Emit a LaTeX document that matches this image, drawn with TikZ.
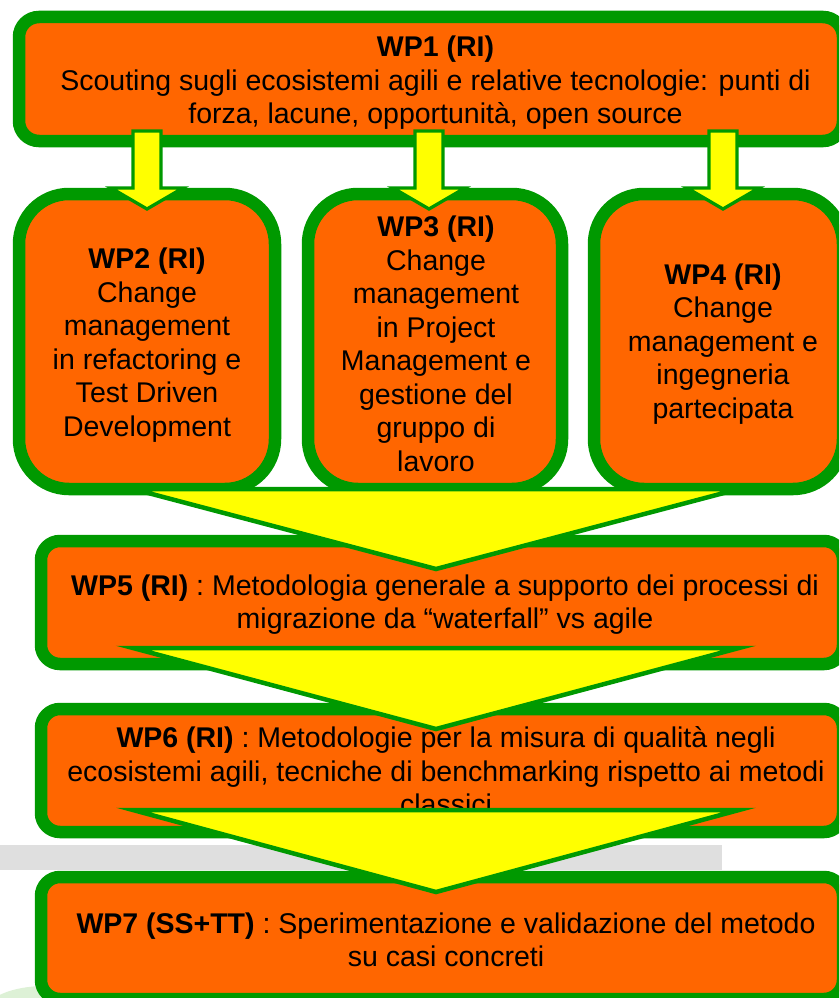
\documentclass[tikz,border=0pt]{standalone}
\usepackage{fontspec}
\setmainfont{Liberation Sans}
\definecolor{wporange}{HTML}{FF6600}
\definecolor{wpgreen}{HTML}{009900}
\definecolor{wpyellow}{HTML}{FFFF00}
\definecolor{bandgray}{HTML}{DFDFDF}
\definecolor{paleleaf}{HTML}{DDF1D6}
\begin{document}
\begin{tikzpicture}[x=1pt,y=-1pt,
  wpbox/.style={draw=wpgreen, fill=wporange, line width=12.5pt, rectangle, inner sep=0pt},
  wptext/.style={align=center, inner sep=0pt, text=black,
                 font=\fontsize{28.5}{33.5}\selectfont},
  smallarrow/.style={draw=wpgreen, fill=wpyellow, line width=3.3pt, line join=miter},
  bigarrow/.style={draw=wpgreen, fill=wpyellow, line width=4.5pt, line join=miter, miter limit=20}]
\useasboundingbox (0,0) rectangle (839,998);
\begin{scope}
\clip (0,0) rectangle (839,998);
\fill[white] (0,0) rectangle (839,998);

% background strip and leaf blob
\fill[bandgray] (0,845) rectangle (722,870);
\fill[paleleaf] (45,1012) ellipse [x radius=60, y radius=26];

% WP1
\node[wpbox, rounded corners=20pt, minimum width=824pt, minimum height=124pt] (b1) at (431,79) {};
\node[wptext] (t1) at (435.5,83) {\textbf{WP1 (RI)}\\Scouting sugli ecosistemi agili e relative tecnologie: punti di\\forza, lacune, opportunità, open source};

% WP2 - WP4
\node[wpbox, rounded corners=50pt, minimum width=256pt, minimum height=295pt] (b2) at (147,341.5) {};
\node[wpbox, rounded corners=50pt, minimum width=254pt, minimum height=295pt] (b3) at (435,341.5) {};
\node[wpbox, rounded corners=50pt, minimum width=249pt, minimum height=295pt] (b4) at (718.5,341.5) {};
\node[wptext] (t2) at (147,345) {\textbf{WP2 (RI)}\\Change\\management\\in refactoring e\\Test Driven\\Development};
\node[wptext] (t3) at (436,344) {\textbf{WP3 (RI)}\\Change\\management\\in Project\\Management e\\gestione del\\gruppo di\\lavoro};
\node[wptext] (t4) at (723,344) {\textbf{WP4 (RI)}\\Change\\management e\\ingegneria\\partecipata};

% small arrows WP1 -> WP2, WP3, WP4
\foreach \cx/\nm in {147/a2,429/a3,723/a4}{
  \coordinate (\nm) at (\cx,131);
  \path[smallarrow] (\cx-14,131) -- (\cx+14,131) -- (\cx+14,188) -- (\cx+36,188)
        -- (\cx,209) -- (\cx-36,188) -- (\cx-14,188) -- cycle;
}

% WP5
\node[wpbox, rounded corners=19pt, minimum width=802pt, minimum height=123pt] (b5) at (442,602.5) {};
\node[wptext] (t5) at (445,604.5) {\textbf{WP5 (RI)} : Metodologia generale a supporto dei processi di\\migrazione da “waterfall” vs agile};
\path[bigarrow] (133,489) coordinate (m1l) -- (739,489) coordinate (m1r) -- (436,569) coordinate (m1t) -- cycle;

% WP6
\node[wpbox, rounded corners=19pt, minimum width=802pt, minimum height=123pt] (b6) at (442,770.5) {};
\node[wptext] (t6) at (446,771) {\textbf{WP6 (RI)} : Metodologie per la misura di qualità negli\\ecosistemi agili, tecniche di benchmarking rispetto ai metodi\\classici};
\path[bigarrow] (133,648) coordinate (m2l) -- (739,648) coordinate (m2r) -- (436,729) coordinate (m2t) -- cycle;

% WP7
\node[wpbox, rounded corners=19pt, minimum width=802pt, minimum height=122pt] (b7) at (442,938) {};
\node[wptext] (t7) at (446,940) {\textbf{WP7 (SS+TT)} : Sperimentazione e validazione del metodo\\su casi concreti};
\path[bigarrow] (133,810) coordinate (m3l) -- (739,810) coordinate (m3r) -- (436,892) coordinate (m3t) -- cycle;
\end{scope}
\end{tikzpicture}
\end{document}
